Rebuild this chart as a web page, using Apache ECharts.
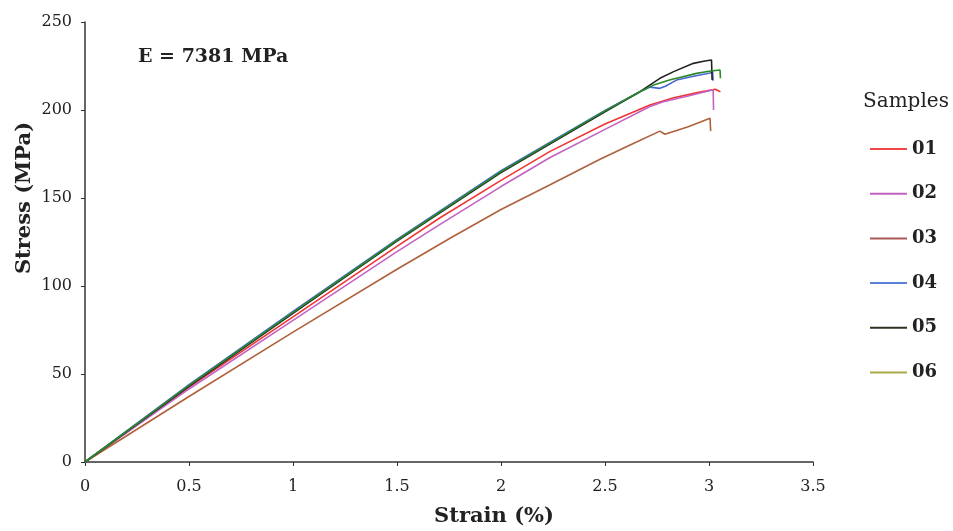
<!DOCTYPE html>
<html><head><meta charset="utf-8">
<script src="https://cdn.jsdelivr.net/npm/echarts@6/dist/echarts.min.js"></script>
<style>html,body{margin:0;padding:0;background:#fff}#c{width:953px;height:531px}</style>
</head><body><div id="c"></div>
<script>
// Sample names
const samples = ['01','02','03','04','05','06'];
// Strain (%) and stress (MPa) per sample
const strain01 = [0, 0.5, 1.0, 1.5, 1.707, 2.0, 2.236, 2.5, 2.716, 2.83, 2.95, 3.03, 3.036, 3.055];
const stress01 = [0, 42.5, 82.5, 122.5, 138.8, 160, 176.5, 192, 202.8, 207, 210, 211.8, 212.9, 210.4];
const strain02 = [0, 0.5, 1.0, 1.5, 1.707, 2.0, 2.236, 2.5, 2.716, 2.78, 2.9, 3.02, 3.022];
const stress02 = [0, 41.5, 80.5, 119.5, 135, 156.5, 173, 189, 202, 204.7, 208, 211.5, 200];
const strain03 = [0, 0.5, 1.0, 1.5, 1.755, 2.0, 2.236, 2.476, 2.636, 2.764, 2.788, 2.9, 3.005, 3.008];
const stress03 = [0, 37.2, 73.8, 109.5, 127.1, 143.5, 157.5, 172, 181, 188, 186.2, 190.5, 195.3, 188];
const strain04 = [0, 0.5, 1.0, 1.5, 2.0, 2.5, 2.668, 2.716, 2.764, 2.79, 2.844, 2.92, 3.005, 3.017, 3.02];
const stress04 = [0, 44, 85.5, 126.5, 165.5, 199.8, 210.4, 213, 212.3, 213.5, 217, 219, 221, 221.8, 216.6];
const strain05 = [0, 0.5, 1.0, 1.5, 2.0, 2.5, 2.668, 2.764, 2.83, 2.925, 2.98, 3.012, 3.015];
const stress05 = [0, 43, 84.5, 125.5, 164.5, 199, 210.4, 218, 221.8, 226.5, 227.8, 228.4, 217];
const strain06 = [0, 0.5, 1.0, 1.5, 2.0, 2.5, 2.668, 2.73, 2.81, 2.94, 3.0, 3.053, 3.055];
const stress06 = [0, 43.5, 85, 126, 165, 199.5, 210.4, 214, 217, 220.8, 222, 222.7, 218];
// Tick values
const xTicks = [0, 0.5, 1, 1.5, 2, 2.5, 3, 3.5];
const yTicks = [0, 50, 100, 150, 200, 250];

const strains = [strain01, strain02, strain03, strain04, strain05, strain06];
const stresses = [stress01, stress02, stress03, stress04, stress05, stress06];
const lineColors = ['#f03535', '#c462c4', '#b0603a', '#4a66d4', '#222222', '#2a8a2a'];
const legendColors = ['#f04848', '#c060c0', '#a85858', '#5a80d8', '#303020', '#a8a848'];
const FONT = '"DejaVu Serif", "Liberation Serif", serif';

const chart = echarts.init(document.getElementById('c'), null, {renderer: 'canvas'});
const series = samples.map((s, i) => ({
  name: s, type: 'line', symbol: 'none', showSymbol: false, smooth: false,
  lineStyle: {width: 1.6, color: lineColors[i]},
  itemStyle: {color: lineColors[i]},
  data: strains[i].map((x, j) => [x, stresses[i][j]]),
  z: 2 + i
}));

chart.setOption({
  animation: false,
  grid: {left: 85, right: 140, top: 22, bottom: 69, containLabel: false},
  xAxis: {
    type: 'value', min: xTicks[0], max: xTicks[xTicks.length - 1], interval: 0.5,
    axisLine: {show: true, lineStyle: {color: '#333', width: 1.5}},
    axisTick: {show: true, length: 4, lineStyle: {color: '#333'}},
    axisLabel: {fontFamily: FONT, fontSize: 16, color: '#222', margin: 17},
    splitLine: {show: false}
  },
  yAxis: {
    type: 'value', min: yTicks[0], max: yTicks[yTicks.length - 1], interval: 50,
    axisLine: {show: true, lineStyle: {color: '#333', width: 1.5}},
    axisTick: {show: true, length: 4, lineStyle: {color: '#333'}},
    axisLabel: {fontFamily: FONT, fontSize: 16, color: '#222', margin: 13},
    splitLine: {show: false}
  },
  legend: {
    orient: 'vertical', left: 870, top: 140, padding: 0,
    icon: 'rect', itemWidth: 37, itemHeight: 2, itemGap: 26.7,
    textStyle: {fontFamily: FONT, fontWeight: 'bold', fontSize: 18, color: '#222'},
    data: samples.map((s, i) => ({name: s, itemStyle: {color: legendColors[i]}}))
  },
  graphic: [
    {type: 'text', left: 138, top: 48, style: {text: 'E = 7381 MPa', font: 'bold 19px ' + FONT, fill: '#222'}},
    {type: 'text', left: 863, top: 92, style: {text: 'Samples', font: '20px ' + FONT, fill: '#222'}},
    {type: 'text', x: 494, y: 517, style: {text: 'Strain (%)', font: 'bold 21px ' + FONT, fill: '#222', align: 'center', verticalAlign: 'middle'}},
    {type: 'text', x: 25, y: 198, rotation: Math.PI / 2, style: {text: 'Stress (MPa)', font: 'bold 21px ' + FONT, fill: '#222', align: 'center', verticalAlign: 'middle'}}
  ],
  series: series
});
</script></body></html>
